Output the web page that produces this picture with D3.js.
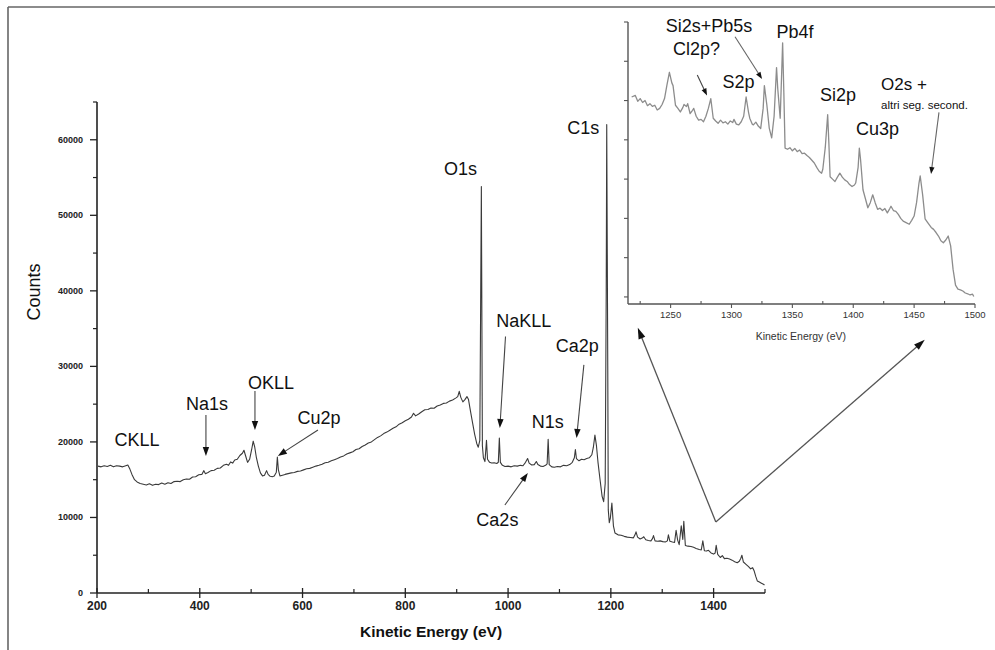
<!DOCTYPE html>
<html><head><meta charset="utf-8">
<script src="https://cdn.jsdelivr.net/npm/d3@7"></script>
<style>
body{margin:0;background:#fff}
svg{display:block}
text{font-family:"Liberation Sans",Arial,Helvetica,sans-serif}
</style>
</head><body>
<svg id="chart" width="995" height="650"></svg>
<script>
// ---- main survey spectrum (kinetic energy, counts) ----
const energy = [202,208,214,220,226,232,238,244,250,256,260,264,268,273,278,284,290,296,302,308,314,320,326,332,338,344,350,356,362,368,374,380,386,392,398,404,408,411,416,422,428,434,440,446,452,456,460,464,468,473,478,483,486,489,493,497,501,504,507,510,514,518,522,526,530,533,537,541,545,549,551,553,556,561,566,572,578,584,590,596,602,608,614,620,626,632,638,644,650,656,662,668,674,680,686,692,698,704,710,716,722,728,734,740,746,752,758,764,770,776,782,788,794,800,806,812,816,820,826,832,838,844,850,856,862,868,874,880,886,892,898,902,905,908,912,916,920,923,927,931,935,939,942,945,948,950,952,955,958,960,964,968,973,978,981,983,985,989,994,1000,1006,1012,1018,1024,1029,1034,1038,1041,1046,1051,1055,1058,1063,1068,1073,1076,1078,1080,1085,1090,1096,1102,1108,1114,1120,1125,1129,1131,1133,1138,1143,1148,1153,1158,1163,1166,1169,1172,1175,1179,1183,1186,1189,1191,1192,1194,1195,1197,1199,1202,1205,1208,1214,1220,1226,1232,1238,1244,1247,1249,1252,1257,1262,1264,1268,1273,1278,1281,1283,1286,1291,1296,1301,1306,1310,1312,1315,1320,1324,1327,1330,1333,1337,1340,1342,1345,1350,1356,1361,1366,1372,1376,1379,1382,1386,1390,1395,1400,1403,1405,1408,1413,1417,1421,1426,1431,1436,1441,1446,1450,1453,1455,1458,1463,1468,1472,1476,1479,1482,1485,1489,1493,1497,1499];
const counts = [16800,16700,16850,16750,16900,16700,16850,16800,16700,16850,16950,16400,15700,15000,14700,14500,14400,14300,14450,14250,14400,14350,14550,14400,14600,14500,14750,14800,14750,15000,15100,15050,15350,15400,15650,15700,16200,15800,15950,16200,16250,16500,16550,16900,17050,16900,17350,17200,17600,17700,18200,18500,18900,18200,17300,17700,19000,20100,19300,18000,16800,15900,15500,15600,16200,15700,15450,15400,15500,16000,18000,16300,15500,15600,15700,15800,15900,15950,16100,16150,16300,16450,16500,16650,16800,16900,17050,17250,17300,17500,17650,17800,18000,18150,18400,18550,18700,19000,19100,19400,19600,19850,20000,20300,20600,20800,21100,21300,21550,21800,22000,22350,22550,22800,23000,23300,23800,23450,23700,24000,24250,24300,24500,24450,24750,24900,25100,25150,25400,25550,25800,26000,26700,25900,25300,25600,26000,25600,24000,22500,21000,19800,19300,20200,53800,19500,17900,17400,20200,17700,17300,17200,17250,17150,17300,20500,17300,16900,16750,16800,16700,16850,16800,16900,16850,17300,17800,17200,16950,17000,17400,17000,16800,16750,16900,17100,20350,17000,16700,16650,16750,16700,16900,16850,17000,17300,17900,19000,17800,17500,17700,17650,17800,17900,18300,19300,20900,19500,17300,15000,12800,12100,14500,40000,62000,30000,11000,9300,9900,11900,8900,7950,7700,7650,7500,7400,7350,7300,7700,8100,7400,7150,7300,7450,7050,6950,6900,7200,7600,6900,6850,6900,6800,6750,6900,7700,6850,6750,6700,8300,7000,6400,8900,7100,9500,6300,6200,6150,6050,5900,5750,5700,6900,5600,5550,5650,5300,5150,5300,6300,5100,4700,4950,4550,4600,4500,4350,4150,4000,4200,4600,5000,4100,3800,3500,3200,3350,2900,2200,1600,1450,1300,1150,1050];

// ---- inset: high kinetic energy region ----
const insetEnergy = [1218,1221,1223,1225,1227,1229,1231,1233,1235,1237,1239,1241,1243,1245,1247,1249,1251,1252,1254,1256,1258,1260,1261,1263,1264,1266,1268,1269,1271,1273,1275,1277,1279,1281,1283,1285,1287,1289,1291,1293,1295,1297,1299,1301,1302,1304,1306,1308,1310,1312,1314,1315,1317,1318,1320,1322,1324,1326,1327,1329,1331,1333,1335,1337,1338,1340,1341,1342,1343,1344,1346,1348,1350,1352,1354,1356,1358,1360,1362,1364,1366,1368,1370,1372,1374,1375,1377,1379,1380,1381,1383,1385,1387,1389,1391,1393,1395,1397,1399,1401,1402,1404,1405,1406,1408,1410,1412,1414,1416,1418,1420,1422,1424,1426,1428,1430,1431,1433,1435,1437,1439,1441,1443,1446,1448,1450,1452,1454,1455,1457,1459,1461,1464,1466,1468,1470,1472,1474,1476,1478,1480,1482,1484,1486,1488,1490,1492,1494,1496,1498,1499];
const insetCounts = [6090,6130,5980,6050,5950,6000,5870,5920,5850,5880,5760,5800,5900,6050,6400,6720,6450,6380,5880,5800,5710,5820,5900,5850,5920,5670,5750,5800,5600,5500,5520,5460,5600,5800,6050,5550,5480,5420,5500,5430,5460,5400,5480,5440,5520,5400,5380,5460,5600,6090,5700,5550,5400,5380,5450,5350,5290,5800,6380,5900,5300,5050,5600,6840,6300,5550,6500,7470,6200,4790,4760,4800,4720,4780,4700,4740,4650,4660,4600,4550,4480,4410,4300,4200,4150,4250,4800,5640,4900,4060,4000,3940,4050,4150,4050,3980,3940,3860,3810,3850,3900,4300,4790,4500,3730,3500,3270,3400,3600,3400,3230,3260,3200,3250,3140,3250,3310,3200,3180,3100,3000,2930,2900,2850,2950,3060,3400,3900,4080,3600,2990,2900,2770,2720,2640,2550,2430,2380,2450,2550,2300,1700,1300,1200,1180,1150,1100,1080,1050,1070,1010];

// ---- ticks ----
const xTickValues = [200,400,600,800,1000,1200,1400];
const xMinorTicks = [300,500,700,900,1100,1300,1500];
const yTickValues = [0,10000,20000,30000,40000,50000,60000];
const yMinorTicks = [5000,15000,25000,35000,45000,55000,65000];
const insetXTickValues = [1250,1300,1350,1400,1450,1500];
const insetXMinorTicks = [1225,1275,1325,1375,1425,1475];
const insetYTicks = [1000,2000,3000,4000,5000,6000,7000,8000];

const svg = d3.select("#chart");

// frame (cropped figure border)
svg.append("line").attr("x1",8).attr("x2",995).attr("y1",7).attr("y2",7).attr("stroke","#666").attr("stroke-width",1.6);
svg.append("line").attr("x1",8).attr("x2",8).attr("y1",7).attr("y2",650).attr("stroke","#666").attr("stroke-width",1.6);

// ---- main scales ----
const x = d3.scaleLinear().domain([200,1500]).range([97,765]);
const y = d3.scaleLinear().domain([0,65000]).range([593,102]);

const main = svg.append("g");

// axes
const axisColor = "#222";
main.append("line").attr("x1",x(200)).attr("x2",x(1500)).attr("y1",y(0)).attr("y2",y(0)).attr("stroke",axisColor).attr("stroke-width",1.6);
main.append("line").attr("x1",x(200)).attr("x2",x(200)).attr("y1",y(0)).attr("y2",y(65000)).attr("stroke",axisColor).attr("stroke-width",1.6);

main.selectAll(".xt").data(xTickValues).join("line")
  .attr("x1",d=>x(d)).attr("x2",d=>x(d)).attr("y1",y(0)-5).attr("y2",y(0)+5)
  .attr("stroke",axisColor).attr("stroke-width",1.3);
main.selectAll(".xmt").data(xMinorTicks).join("line")
  .attr("x1",d=>x(d)).attr("x2",d=>x(d)).attr("y1",y(0)-4).attr("y2",y(0))
  .attr("stroke",axisColor).attr("stroke-width",1.2);
main.selectAll(".xl").data(xTickValues).join("text")
  .attr("x",d=>x(d)).attr("y",y(0)+17).attr("text-anchor","middle")
  .attr("font-size",12).attr("font-weight","bold").attr("fill","#222").text(d=>d);

main.selectAll(".yt").data(yTickValues).join("line")
  .attr("x1",x(200)-7).attr("x2",x(200)).attr("y1",d=>y(d)).attr("y2",d=>y(d))
  .attr("stroke",axisColor).attr("stroke-width",1.3);
main.selectAll(".ymt").data(yMinorTicks).join("line")
  .attr("x1",x(200)-4).attr("x2",x(200)).attr("y1",d=>y(d)).attr("y2",d=>y(d))
  .attr("stroke",axisColor).attr("stroke-width",1.2);
main.selectAll(".yl").data(yTickValues).join("text")
  .attr("x",x(200)-14).attr("y",d=>y(d)+3).attr("text-anchor","end")
  .attr("font-size",9).attr("font-weight","bold").attr("fill","#222").text(d=>d);

main.append("text").attr("x",x(850)).attr("y",637).attr("text-anchor","middle")
  .attr("font-size",15.5).attr("font-weight","bold").attr("fill","#111").text("Kinetic Energy (eV)");
main.append("text").attr("transform","translate(40,292) rotate(-90)").attr("text-anchor","middle")
  .attr("font-size",18).attr("fill","#111").text("Counts");

// spectrum line
const mainData = energy.map((e,i)=>({e, c:counts[i]}));
main.append("path").datum(mainData)
  .attr("d", d3.line().x(d=>x(d.e)).y(d=>y(d.c)))
  .attr("fill","none").attr("stroke","#3a3a3a").attr("stroke-width",1.1).attr("stroke-linejoin","round");

// arrow helper
function arrow(g, x1, y1, x2, y2, opts={}) {
  const len = opts.len || 9, hw = opts.hw || 3.2;
  const dx = x2-x1, dy = y2-y1, L = Math.hypot(dx,dy);
  const ux = dx/L, uy = dy/L;
  const bx = x2-ux*len, by = y2-uy*len;
  g.append("line").attr("x1",x1).attr("y1",y1).attr("x2",bx+ux*2).attr("y2",by+uy*2)
    .attr("stroke",opts.stroke||"#444").attr("stroke-width",opts.sw||1.1);
  g.append("path")
    .attr("d",`M${x2},${y2}L${bx-uy*hw},${by+ux*hw}L${bx+uy*hw},${by-ux*hw}Z`)
    .attr("fill","#111");
}

// main peak labels (positions in data units)
const lab = main.append("g").attr("font-size",18).attr("fill","#111");
function label(g, t, ex, cy, sx, sy, anchor="middle", size=null) {
  const tx = g.append("text").attr("x",sx(ex)).attr("y",sy(cy)).attr("dy","0.36em")
    .attr("text-anchor",anchor).text(t);
  if (size) tx.attr("font-size",size);
}
label(lab,"CKLL",277.8,20265,x,y);
label(lab,"Na1s",414,25033,x,y);
label(lab,"OKLL",538.5,27815,x,y);
label(lab,"Cu2p",631.9,23179,x,y);
label(lab,"O1s",907.2,56225,x,y);
label(lab,"C1s",1146.5,61655,x,y);
label(lab,"NaKLL",1030.7,36026,x,y);
label(lab,"N1s",1077.4,22715,x,y);
label(lab,"Ca2p",1134.8,32781,x,y);
label(lab,"Ca2s",979.2,9735,x,y);

arrow(main, x(412), y(23576), x(412), y(18146));
arrow(main, x(507.4), y(26755), x(507.4), y(21590));
arrow(main, x(630), y(21589), x(552), y(18146));
arrow(main, x(995), y(33947), x(984), y(21854));
arrow(main, x(1147.5), y(30199), x(1133.3), y(20530));
arrow(main, x(993.8), y(11656), x(1038.5), y(15894));

// zoom arrows to the inset
arrow(main, x(1404.3), y(9404), x(1252.5), y(35100), {stroke:"#555", sw:1.3, len:11, hw:3.6});
arrow(main, x(1404.3), y(9404), x(1810.9), y(33510), {stroke:"#555", sw:1.3, len:11, hw:3.6});

// ---- inset ----
const ix = d3.scaleLinear().domain([1215,1500]).range([628,975]);
const iy = d3.scaleLinear().domain([820,8000]).range([304,22]);
const inset = svg.append("g");
const iColor = "#555";
inset.append("line").attr("x1",ix(1215)).attr("x2",ix(1500)).attr("y1",iy(820)).attr("y2",iy(820)).attr("stroke",iColor).attr("stroke-width",1.4);
inset.append("line").attr("x1",ix(1215)).attr("x2",ix(1215)).attr("y1",iy(820)).attr("y2",iy(8000)).attr("stroke",iColor).attr("stroke-width",1.4);
inset.selectAll(".ixt").data(insetXTickValues).join("line")
  .attr("x1",d=>ix(d)).attr("x2",d=>ix(d)).attr("y1",iy(820)).attr("y2",iy(820)+4)
  .attr("stroke",iColor).attr("stroke-width",1.1);
inset.selectAll(".ixm").data(insetXMinorTicks).join("line")
  .attr("x1",d=>ix(d)).attr("x2",d=>ix(d)).attr("y1",iy(820)-3).attr("y2",iy(820))
  .attr("stroke",iColor).attr("stroke-width",1.1);
inset.selectAll(".ixl").data(insetXTickValues).join("text")
  .attr("x",d=>ix(d)).attr("y",iy(820)+14).attr("text-anchor","middle")
  .attr("font-size",9.5).attr("fill","#333").text(d=>d);
inset.selectAll(".iyt").data(insetYTicks).join("line")
  .attr("x1",ix(1215)-4).attr("x2",ix(1215)).attr("y1",d=>iy(d)).attr("y2",d=>iy(d))
  .attr("stroke",iColor).attr("stroke-width",1.1);
inset.append("text").attr("x",ix(1357)).attr("y",340).attr("text-anchor","middle")
  .attr("font-size",10.5).attr("fill","#333").text("Kinetic Energy (eV)");

const insetData = insetEnergy.map((e,i)=>({e, c:insetCounts[i]}));
inset.append("path").datum(insetData)
  .attr("d", d3.line().x(d=>ix(d.e)).y(d=>iy(d.c)))
  .attr("fill","none").attr("stroke","#8c8c8c").attr("stroke-width",1.3).attr("stroke-linejoin","round");

const ilab = inset.append("g").attr("font-size",18).attr("fill","#111");
label(ilab,"Si2s+Pb5s",1281.5,7898,ix,iy);
label(ilab,"Cl2p?",1271.3,7325,ix,iy);
label(ilab,"S2p",1305.8,6485,ix,iy);
label(ilab,"Pb4f",1352.2,7745,ix,iy);
label(ilab,"Si2p",1387.5,6154,ix,iy);
label(ilab,"Cu3p",1419.9,5276,ix,iy);
label(ilab,"O2s +",1422.8,6430,ix,iy,"start",17);
label(ilab,"altri seg. second.",1422.8,5900,ix,iy,"start",11.5);

arrow(inset, ix(1271.9), iy(6650), ix(1279.9), iy(6131), {len:7, hw:2.6});
arrow(inset, ix(1302.9), iy(7623), ix(1325.1), iy(6548), {len:7, hw:2.6, stroke:"#666"});
arrow(inset, ix(1470.4), iy(5700), ix(1463.9), iy(4130), {len:7, hw:2.6, stroke:"#666"});
</script>
</body></html>
